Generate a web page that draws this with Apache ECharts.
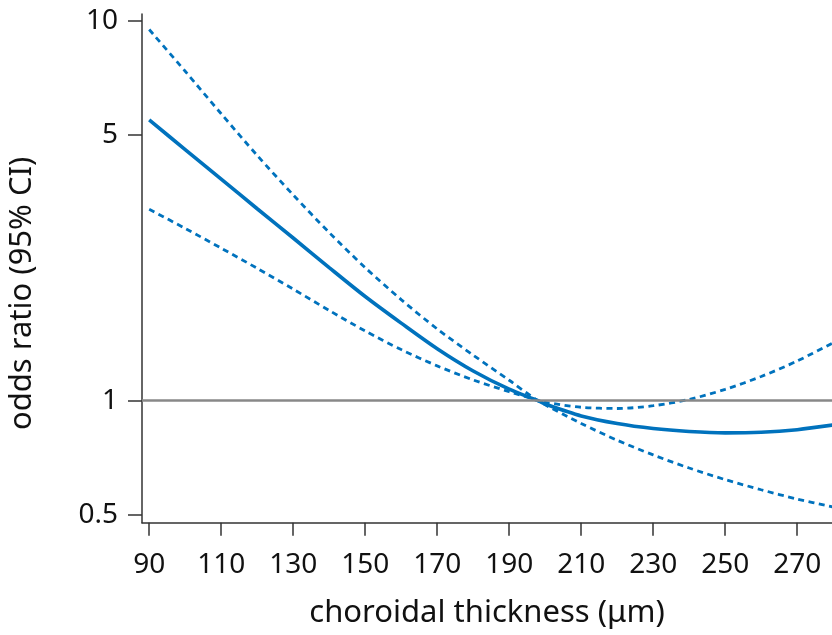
<!DOCTYPE html>
<html>
<head>
<meta charset="utf-8">
<script src="https://cdn.jsdelivr.net/npm/echarts@6/dist/echarts.min.js"></script>
<style>
html,body{margin:0;padding:0;background:#fff;}
#chart{width:832px;height:635px;}
</style>
</head>
<body>
<div id="chart"></div>
<script>
// choroidal thickness (µm)
var thickness = [90,100,110,120,130,140,150,160,170,180,190,198,200,210,220,230,240,250,260,270,280];
// odds ratio estimate
var oddsRatio = [5.48,4.58,3.83,3.20,2.68,2.24,1.88,1.60,1.37,1.197,1.072,1.0,0.98,0.912,0.871,0.845,0.830,0.823,0.826,0.839,0.863];
// upper 95% CI
var ciUpper = [9.48,7.36,5.69,4.42,3.48,2.77,2.24,1.845,1.545,1.318,1.132,1.0,0.99,0.961,0.954,0.970,1.008,1.071,1.158,1.272,1.421];
// lower 95% CI
var ciLower = [3.19,2.84,2.52,2.23,1.966,1.728,1.526,1.363,1.235,1.134,1.056,1.0,0.975,0.871,0.787,0.720,0.665,0.620,0.583,0.551,0.525];
// tick labels
var xTicks = [90,110,130,150,170,190,210,230,250,270];
var yTicks = [0.5,1,5,10];
var refValue = 1;

function pairs(ys){ return thickness.map(function(x,i){ return [x, ys[i]]; }); }

var FONT = 'Noto Sans';
var BLUE = '#0072BD';
var AXIS = '#333333';

var chart = echarts.init(document.getElementById('chart'), null, {renderer:'canvas'});
chart.setOption({
  animation:false,
  backgroundColor:'#ffffff',
  grid:{left:142, top:14, right:0, bottom:112.3, outerBoundsMode:'none', containLabel:false},
  xAxis:{
    type:'value', min:88, max:279.67,
    axisLine:{show:true, onZero:false, lineStyle:{color:AXIS, width:1.5}},
    axisTick:{show:true, length:13, customValues:xTicks, lineStyle:{color:AXIS, width:1.5}},
    axisLabel:{customValues:xTicks, margin:28, fontSize:28, color:'#111', fontFamily:FONT},
    splitLine:{show:false},
    name:'choroidal thickness (μm)', nameLocation:'middle', nameGap:75, nameMoveOverlap:false,
    nameTextStyle:{fontSize:31, color:'#111', fontFamily:FONT}
  },
  yAxis:{
    type:'log', logBase:10, min:0.4775, max:10.414,
    axisLine:{show:true, lineStyle:{color:AXIS, width:1.5}},
    axisTick:{show:true, length:14, customValues:yTicks, lineStyle:{color:AXIS, width:1.5}},
    axisLabel:{customValues:yTicks, margin:24, fontSize:28, color:'#111', fontFamily:FONT,
      formatter:function(v){ return String(v); }},
    splitLine:{show:false}, minorTick:{show:false},
    name:'odds ratio (95% CI)', nameLocation:'middle', nameGap:104, nameMoveOverlap:false,
    nameTextStyle:{fontSize:31, color:'#111', fontFamily:FONT, padding:[0,50,0,0]}
  },
  series:[
    {type:'line', data:[], z:1, silent:true,
      markLine:{silent:true, symbol:['none','none'], label:{show:false},
        lineStyle:{color:'#888888', width:2.5, type:'solid'}, data:[{yAxis:refValue}], animation:false}},
    {type:'line', data:pairs(ciUpper), showSymbol:false, symbol:'none', smooth:0.3, z:3,
      lineStyle:{color:BLUE, width:2.8, type:[6,4.5]}},
    {type:'line', data:pairs(ciLower), showSymbol:false, symbol:'none', smooth:0.3, z:3,
      lineStyle:{color:BLUE, width:2.8, type:[6,4.5]}},
    {type:'line', data:pairs(oddsRatio), showSymbol:false, symbol:'none', smooth:0.3, z:4,
      lineStyle:{color:BLUE, width:3.6, type:'solid'}}
  ]
});
</script>
</body>
</html>
